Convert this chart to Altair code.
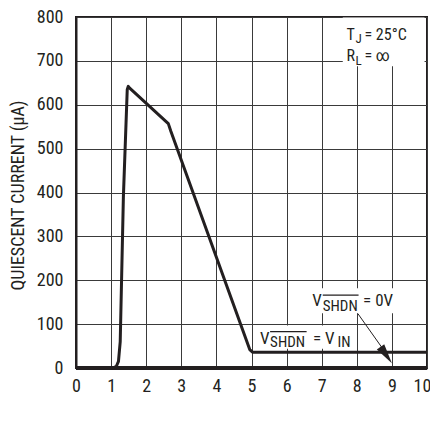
import altair as alt
import pandas as pd

# --- data ---
curve_x = [0, 1.0, 1.08, 1.15, 1.21, 1.26, 1.35, 1.46, 1.49, 1.53, 2.63, 2.7, 4.95, 5.03, 10]
curve_y = [0, 0, 1, 4, 15, 60, 390, 635, 642, 638, 557, 540, 42, 36, 36]
zero_x = [0, 10]
zero_y = [0, 0]

x_ticks = list(range(0, 11))
y_ticks = list(range(0, 801, 100))

FONT = "Roboto Condensed, Roboto, sans-serif"
INK = "#231f20"

curve = pd.DataFrame({"x": curve_x, "y": curve_y})
zero = pd.DataFrame({"x": zero_x, "y": zero_y})

xs = alt.Scale(domain=[0, 10], nice=False)
ys = alt.Scale(domain=[0, 800], nice=False)

X = alt.X("x:Q", scale=xs, axis=alt.Axis(
    values=x_ticks, title="INPUT VOLTAGE (V)", grid=True, ticks=False, labelOverlap=False,
    labelFlush=False, labelPadding=9, labelFontSize=18, titleFontSize=18,
    labelOffset={"expr": "datum.value == 10 ? -5 : 0"},
    titleFontWeight="normal", titleY=380, titleBaseline="top"))
Y = alt.Y("y:Q", scale=ys, axis=alt.Axis(
    values=y_ticks, title="QUIESCENT CURRENT (μA)", grid=True, ticks=False, labelOverlap=False,
    labelFlush=False, labelPadding=13, labelFontSize=18, titleFontSize=18,
    titleFontWeight="normal", titleX=-58, titleY=178, titleBaseline="middle"))

zero_line = alt.Chart(zero).mark_line(color=INK, strokeWidth=4).encode(x=X, y=Y)
curve_line = alt.Chart(curve).mark_line(color=INK, strokeWidth=3, strokeJoin="round").encode(
    x=X, y=Y)

# white boxes behind annotations
boxes = pd.DataFrame({
    "x": [7.6, 6.67, 5.16], "x2": [9.93, 9.25, 7.85],
    "y": [688, 125, 44], "y2": [799, 182, 97]})
box_layer = alt.Chart(boxes).mark_rect(color="white").encode(
    x=X, x2="x2:Q", y=Y, y2="y2:Q")

# annotation texts
box_main = pd.DataFrame({"x": [7.71, 8.22, 7.71, 8.22], "y": [747, 747, 700, 700],
                         "t": ["T", "= 25°C", "R", "= ∞"]})
box_sub = pd.DataFrame({"x": [7.96, 7.96], "y": [740, 691], "t": ["J", "L"]})
lab_main = pd.DataFrame({"x": [6.73, 8.18, 5.24, 6.75], "y": [141, 141, 55, 55],
                         "t": ["V", "= 0V", "V", "= V"]})
lab_sub = pd.DataFrame({"x": [7.03, 5.53, 7.45], "y": [131, 47, 47],
                        "t": ["SHDN", "SHDN", "IN"]})


def txt(df, size):
    return alt.Chart(df).mark_text(align="left", baseline="alphabetic", fontSize=size,
                                   font=FONT, color=INK).encode(x=X, y=Y, text="t:N")


overlines = pd.DataFrame({"x": [7.03, 5.53], "x2": [8.05, 6.57], "y": [166, 83]})
over_layer = alt.Chart(overlines).mark_rule(color=INK, strokeWidth=1.2).encode(
    x=X, x2="x2:Q", y=Y)

arrow = pd.DataFrame({"x": [8.03], "y": [124], "x2": [8.88], "y2": [28]})
arrow_line = alt.Chart(arrow).mark_rule(color=INK, strokeWidth=1).encode(
    x=X, y=Y, x2="x2:Q", y2="y2:Q")
head = pd.DataFrame({"x": [9.0], "y": [11]})
arrow_head = alt.Chart(head).mark_point(
    shape="M0,0L-0.25,1.1L0.25,1.1Z", filled=True, fill=INK, strokeWidth=0,
    size=1300, angle=145, opacity=1
).encode(x=X, y=Y)

chart = alt.layer(zero_line, box_layer, curve_line, txt(box_main, 16), txt(box_sub, 13),
                  txt(lab_main, 17), txt(lab_sub, 15), over_layer,
                  arrow_line, arrow_head).properties(
    width=351, height=351,
    autosize=alt.AutoSizeParams(type="none"),
    padding={"left": 68, "top": 9, "right": 3, "bottom": 53},
).configure_view(stroke=INK, strokeWidth=2).configure_axis(
    labelFont=FONT, titleFont=FONT, labelColor=INK, titleColor=INK,
    gridColor="#3a3a3a", gridWidth=1, gridOpacity=1, domainColor=INK, domainWidth=2,
)

chart.save("out.html", embed_options={"renderer": "svg", "actions": False})
